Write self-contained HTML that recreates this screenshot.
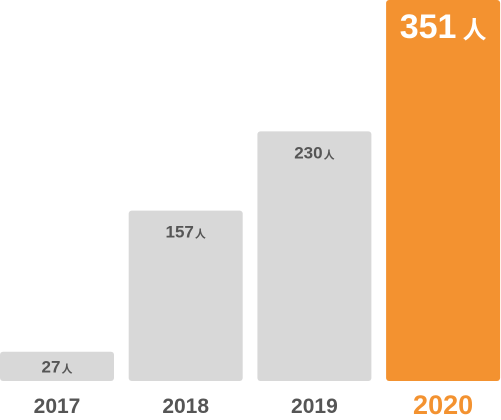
<!DOCTYPE html>
<html><head><meta charset="utf-8"><style>
html,body{margin:0;padding:0;background:#fff;}
svg{display:block;font-family:"Liberation Sans","Noto Sans CJK SC",sans-serif;font-weight:bold;}
</style></head><body>
<svg id="chart" width="501" height="420"></svg>
<script>
const years = ["2017","2018","2019","2020"];
const values = [27,157,230,351];
const valueLabels = ["27","157","230","351"];
const NS = "http://www.w3.org/2000/svg";
const svg = document.getElementById('chart');
const base = 381, maxH = 381, maxV = 351;
function y(v){ return base - v/maxV*maxH; }
function x(i){ return i*128.7; }
const bw = 114;
function mk(t, a){ const e=document.createElementNS(NS,t); for(const k in a) e.setAttribute(k,a[k]); return e; }
values.forEach((v,i)=>{
  const last = i===values.length-1;
  const r = mk('rect',{x:x(i),y:y(v),width:bw,height:base-y(v),rx:3,fill:last?'#f39230':'#d8d8d8'});
  
  
  svg.appendChild(r);
  const ly = last ? y(v)+38 : Math.min(y(v)+27, (y(v)+base)/2+6);
  const t = mk('text',{x:x(i)+bw/2,y:ly,'text-anchor':'middle',fill:last?'#fff':'#555','font-size':last?34:17});
  
  
  t.textContent = valueLabels[i];
  const s = mk('tspan',{'font-size':last?24:11,dx:last?6:1});
  s.textContent='人';
  t.appendChild(s);
  svg.appendChild(t);
  const yl = mk('text',{x:x(i)+bw/2,y:last?414:413,'text-anchor':'middle',fill:last?'#f39230':'#555','font-size':last?27:21});
  
  
  yl.textContent = years[i];
  svg.appendChild(yl);
});
</script>
</body></html>
